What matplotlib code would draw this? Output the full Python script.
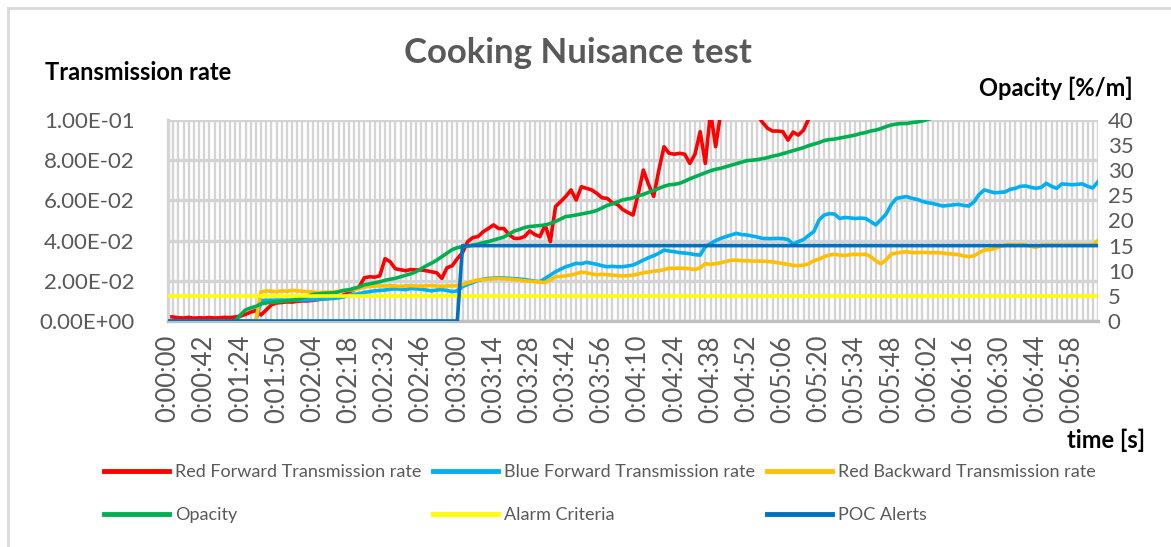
import numpy as np
import matplotlib
matplotlib.use("Agg")
import matplotlib.pyplot as plt
from matplotlib.ticker import FuncFormatter
from matplotlib.lines import Line2D

plt.rcParams['font.family'] = ['Lato', 'DejaVu Sans']

# ---------------- data ----------------
tick_labels = ["0:00:00", "0:00:42", "0:01:24", "0:01:50", "0:02:04", "0:02:18",
               "0:02:32", "0:02:46", "0:03:00", "0:03:14", "0:03:28", "0:03:42",
               "0:03:56", "0:04:10", "0:04:24", "0:04:38", "0:04:52", "0:05:06",
               "0:05:20", "0:05:34", "0:05:48", "0:06:02", "0:06:16", "0:06:30",
               "0:06:44", "0:06:58"]
label_every = 7

nan = float('nan')

# transmission rates in units of 1e-3 (left axis)
red_forward_milli = [
    2.2, 2.0, 1.6, 1.5, 1.8, 1.4, 1.6, 1.5, 1.7, 1.5,
    1.6, 1.8, 1.7, 2.0, 2.4, 3.3, 4.4, 5.2, 3.0, 5.5,
    8.0, 9.0, 9.2, 9.5, 9.4, 9.8, 10.0, 10.0, 10.3, 10.6,
    11.0, 11.2, 11.5, 12.0, 13.0, 14.5, 15.5, 17.0, 21.5, 22.0,
    21.8, 22.5, 31.0, 29.5, 26.0, 25.5, 25.0, 25.6, 25.4, 25.4,
    25.0, 24.5, 24.0, 21.2, 26.5, 27.5, 31.0, 34.0, 39.5, 41.5,
    42.0, 44.4, 46.0, 47.8, 46.0, 46.0, 43.0, 41.1, 41.1, 42.0,
    44.8, 43.0, 42.0, 47.8, 39.5, 56.9, 59.4, 62.0, 65.2, 60.2,
    66.8, 66.0, 65.2, 63.5, 61.3, 61.0, 58.8, 58.0, 55.5, 54.0,
    52.7, 63.0, 75.1, 68.0, 62.0, 75.0, 86.7, 83.4, 83.0, 83.4,
    83.0, 78.4, 83.0, 94.2, 78.4, 104, 86.7, 104, 108, 110,
    112, 110, 108, 106, 103, 99, 96, 94.5, 94.5, 94.2,
    90.0, 94.0, 92.5, 95.0, 100.5, 106,
] + [nan] * 55

blue_forward_milli = [0.0] * 18 + [
    10.2, 10.3, 10.3, 10.4, 10.4, 10.4, 10.5, 10.4, 10.5, 10.5, 10.6, 10.8, 11.0,
    11.1,
    11.2, 11.5, 12.0, 12.8, 13.2, 13.6, 14.2, 14.6, 15.0, 15.2,
    15.4, 15.8, 16.0, 15.8, 15.6, 16.2, 16.0, 15.8, 15.4, 15.0,
    15.4, 15.6, 15.2, 14.6, 15.0,
    17.1, 18.2, 19.2, 20.2, 20.8, 21.2, 21.3, 21.5, 21.4, 21.2,
    21.0, 20.9, 20.6, 20.2, 19.8, 19.6, 21.2, 22.8, 24.5, 25.8,
    27.0, 27.8, 28.7, 28.5, 29.2, 28.7, 28.2, 27.5, 27.0, 27.2,
    27.0, 27.0,
    27.4,
    27.8, 29.0, 30.3, 31.5, 32.5, 33.7, 35.3, 34.8, 34.5, 34.0,
    33.8, 33.5, 33.0, 32.8, 37.0, 38.5, 40.0, 41.1, 42.0, 42.8,
    43.6, 43.0, 42.8, 42.3, 41.8, 41.1, 41.0, 41.0, 41.1, 41.0,
    40.5, 38.3, 39.5, 40.5, 42.6, 44.5, 50.2, 52.7, 53.4, 53.2,
    51.0, 51.5, 51.3, 51.0, 51.2, 51.0, 49.5, 47.8, 50.5, 53.2,
    58.0, 61.0, 61.5, 61.9, 61.0, 60.5, 59.5, 58.9, 58.5, 57.8,
    57.2, 57.5,
    57.8,
    58.0, 57.5, 57.2, 59.3, 63.0, 65.2, 64.5, 63.8, 64.0, 64.2,
    65.5, 66.0, 67.0, 67.2, 66.5, 66.0, 66.5, 68.5, 67.0, 66.0,
    68.2, 68.0, 67.8, 68.0, 68.2, 67.0, 66.2, 69.3,
]

red_backward_milli = [0.0] * 18 + [
    14.5, 15.0, 14.8, 14.6, 15.0, 14.8, 15.2, 15.0, 14.8, 14.6, 14.4, 14.2, 14.3,
    14.4,
    14.5, 14.8, 15.0, 15.4, 15.6, 16.2, 16.8, 17.2, 17.4, 17.5,
    17.4, 17.6, 17.4, 17.2, 17.5, 17.6, 17.4, 17.3, 17.5, 17.6,
    17.4, 17.2, 17.5, 17.4, 17.6,
    18.2, 19.0, 19.8, 20.4, 20.6, 20.8, 21.0, 21.2, 21.0, 20.8,
    20.6, 20.4, 20.0, 19.8, 19.6, 19.4, 19.1, 20.5, 22.0, 22.2,
    22.5, 22.9, 23.5, 24.3, 24.0, 23.4, 23.0, 23.2, 23.0, 22.8,
    22.6, 22.4,
    22.6,
    22.8, 23.4, 24.0, 24.4, 24.8, 25.0, 25.6, 26.2, 26.2, 26.3,
    26.2, 26.0, 25.6, 26.5, 28.5, 28.2, 28.5, 29.0, 29.6, 30.2,
    30.3, 30.0, 30.0, 29.8, 29.8, 29.8, 29.6, 29.4, 29.0, 28.6,
    28.2, 27.6, 27.6, 27.8, 28.4, 30.0, 30.8, 32.0, 32.8, 33.2,
    32.8, 32.6, 33.0, 33.2, 33.0, 33.3, 32.0, 30.0, 28.4, 30.5,
    33.3, 33.8, 34.2, 34.5, 34.0, 34.0, 34.2, 34.0, 34.0, 34.0,
    33.8, 33.5,
    33.2,
    33.0, 32.4, 32.0, 32.4, 34.0, 35.3, 35.5, 36.0, 37.0, 37.8,
    38.0, 37.8, 38.0, 37.8, 37.2, 36.6, 37.6, 37.8, 37.8, 37.8,
    37.8, 37.8, 37.8, 37.8, 37.8, 37.8, 37.9, 40.0,
]

# opacity in %/m (right axis)
opacity = [0.0] * 14 + [
    1.2, 2.2, 2.6, 2.9, 3.4, 3.6, 3.7, 3.8, 3.9, 4.0, 4.1, 4.3, 4.6, 4.9, 5.3, 5.4, 5.5,
    5.55,
    5.6, 5.8, 6.1, 6.2, 6.5, 6.8, 7.2, 7.4, 7.6,
    7.8, 8.1, 8.3, 8.5, 8.8, 9.1, 9.4, 9.8, 10.4, 11.0,
    11.5, 12.1, 12.8, 13.5, 14.2, 14.6, 14.8, 14.9, 15.1, 15.3,
    15.6, 15.8, 16.1, 16.4, 16.7, 17.3, 17.9, 18.2, 18.6, 18.8,
    18.9, 19.0, 19.1, 19.4, 19.8, 20.3, 20.8, 20.9, 21.1, 21.3,
    21.5, 21.7, 22.0, 22.5, 23.0, 23.3, 23.7, 24.1,
    24.3,
    24.5, 24.9, 25.2, 25.6, 26.0, 26.4, 26.8, 27.1, 27.2, 27.4,
    27.8, 28.3, 28.7, 29.1, 29.5, 29.9, 30.2, 30.4, 30.7, 31.0,
    31.3, 31.6, 31.9, 32.0, 32.1, 32.3, 32.5, 32.8, 33.0, 33.3,
    33.6, 33.9, 34.2, 34.5, 34.9, 35.2, 35.5, 35.9, 36.1, 36.2,
    36.4, 36.6, 36.8, 37.0, 37.3, 37.5, 37.8, 38.0, 38.3, 38.7,
    39.0, 39.2, 39.3, 39.3, 39.5, 39.6, 39.8, 40.1, 40.4,
] + [nan] * 32

n_points = len(red_forward_milli)
alarm_criteria = [5.0] * n_points
poc_alerts = [0.0] * 57 + [15.0] * (n_points - 57)

# ---------------- figure ----------------
W, H = 1171, 547
fig = plt.figure(figsize=(W / 100, H / 100), dpi=100)

# outer chart border (partially visible)
fig.add_artist(Line2D([8 / W, 1.0], [1 - 8 / H, 1 - 8 / H], transform=fig.transFigure,
                      color='#D9D9D9', lw=2))
fig.add_artist(Line2D([8 / W, 8 / W], [0.0, 1 - 8 / H], transform=fig.transFigure,
                      color='#D9D9D9', lw=2))

ax = fig.add_axes([168 / W, 1 - 321 / H, 930 / W, 201 / H])
x = np.arange(n_points)

c_red, c_blue, c_orange = '#FF0000', '#00B0F0', '#FFC000'
c_green, c_yellow, c_poc = '#00B050', '#FFFF00', '#0070C0'
lw = 2.6

l1, = ax.plot(x, np.array(red_forward_milli) * 1e-3, color=c_red, lw=lw,
              label='Red Forward Transmission rate', solid_joinstyle='round')
l2, = ax.plot(x, np.array(blue_forward_milli) * 1e-3, color=c_blue, lw=lw,
              label='Blue Forward Transmission rate', solid_joinstyle='round')
l3, = ax.plot(x, np.array(red_backward_milli) * 1e-3, color=c_orange, lw=lw,
              label='Red Backward Transmission rate', solid_joinstyle='round')

ax.set_xlim(0, n_points - 1)
ax.set_ylim(0, 0.1)
ax.set_yticks(np.arange(0, 0.1001, 0.02))
ax.yaxis.set_major_formatter(FuncFormatter(lambda v, p: f"{v:.2E}"))
ax.set_xticks(np.arange(len(tick_labels)) * label_every)
ax.set_xticklabels(tick_labels, rotation=90, va='top', ha='center')
ax.set_xticks(np.arange(n_points), minor=True)
ax.grid(which='both', axis='x', color='#D4D4D4', lw=1.7)
ax.grid(which='major', axis='y', color='#D4D4D4', lw=2.4)
ax.set_axisbelow(True)
ax.tick_params(axis='both', which='both', length=0, colors='#595959')
ax.tick_params(axis='y', labelsize=16, pad=24)
ax.tick_params(axis='x', labelsize=18.5, pad=10)
for s in ['top', 'right']:
    ax.spines[s].set_visible(False)
ax.spines['left'].set_color('#D4D4D4')
ax.spines['left'].set_linewidth(2.4)
ax.spines['bottom'].set_color('#BFBFBF')
ax.spines['bottom'].set_linewidth(2.4)

ax2 = ax.twinx()
l4, = ax2.plot(x, opacity, color=c_green, lw=lw, label='Opacity', solid_joinstyle='round')
l5, = ax2.plot(x, alarm_criteria, color=c_yellow, lw=lw, label='Alarm Criteria')
l6, = ax2.plot(x, poc_alerts, color=c_poc, lw=lw, label='POC Alerts')
ax2.set_ylim(0, 40)
ax2.set_yticks(np.arange(0, 41, 5))
ax2.tick_params(axis='y', length=0, colors='#595959', labelsize=16, pad=7)
for s in ax2.spines.values():
    s.set_visible(False)

# texts
fig.text(578 / W, 1 - 53 / H, 'Cooking Nuisance test', ha='center', va='center',
         fontsize=25, fontweight='bold', color='#595959')
fig.text(45 / W, 1 - 72 / H, 'Transmission rate', ha='left', va='center',
         fontsize=17, fontweight='bold', color='black')
fig.text(1133 / W, 1 - 88 / H, 'Opacity [%/m]', ha='right', va='center',
         fontsize=17, fontweight='bold', color='black')
fig.text(1145 / W, 1 - 440 / H, 'time [s]', ha='right', va='center',
         fontsize=17, fontweight='bold', color='black')

handles = [l1, l4, l2, l5, l3, l6]
leg = fig.legend(handles=handles, labels=[h.get_label() for h in handles],
                 loc='upper left', bbox_to_anchor=(104 / W, 1 - 464 / H),
                 ncol=3, frameon=False, fontsize=13, handlelength=3.6,
                 handletextpad=0.33, columnspacing=0.67, labelspacing=1.5,
                 borderaxespad=0, borderpad=0)
for t in leg.get_texts():
    t.set_color('#595959')
for h in leg.legend_handles:
    h.set_linewidth(3.5)

fig.savefig('out.png', dpi=100)
